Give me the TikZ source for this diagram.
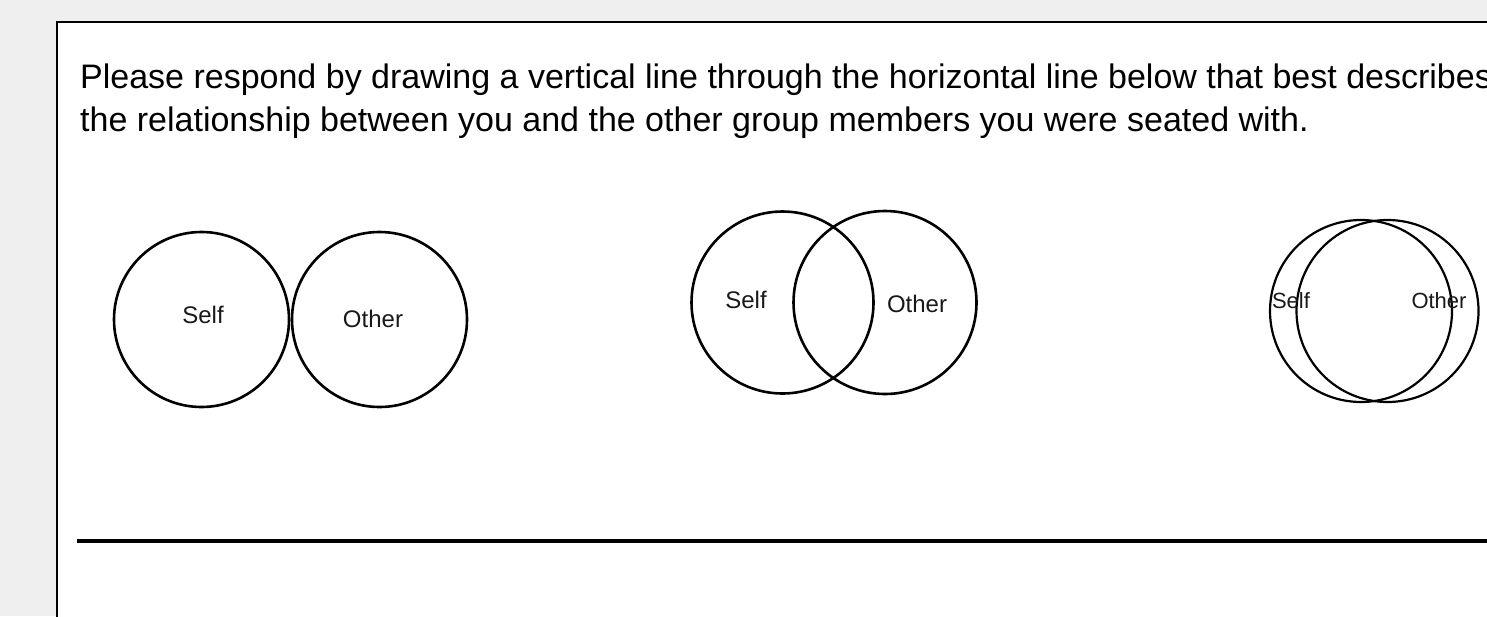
\documentclass[tikz,border=0pt]{standalone}
\usepackage{fontspec}
\setmainfont{Liberation Sans}
\usetikzlibrary{positioning}
\definecolor{pagegray}{HTML}{EFEFEF}

\begin{document}
\begin{tikzpicture}[
    x=1pt, y=-1pt,
    ring/.style={draw=black, circle, line width=2.6pt, inner sep=0pt},
    tag/.style={text=black!90, font=\fontsize{24}{28}\selectfont, inner sep=0pt, anchor=base},
    smalltag/.style={tag, font=\fontsize{22}{26}\selectfont},
    prompt/.style={text=black, font=\fontsize{34}{40}\selectfont, inner sep=0pt, anchor=base west},
  ]
  % ---- page and frame ----
  \fill[pagegray] (0,0) rectangle (1487,616);
  \useasboundingbox (0,0) rectangle (1487,616);
  \clip (0,0) rectangle (1487,616);
  \fill[white] (57,22) rectangle (1600,1500);
  \draw[line width=1.8pt] (57,1500) -- (57,22) -- (1600,22);

  % ---- question text ----
  \node[prompt] (line1) at (80,88)
    {Please respond by drawing a vertical line through the horizontal line below that best describes};
  \node[prompt] (line2) at (80,131)
    {the relationship between you and the other group members you were seated with.};

  % ---- separate circles ----
  \node[ring, minimum size=175pt] (self1) at (201.5,319.5) {};
  \node[ring, minimum size=175pt] (other1) at (379.5,319.5) {};
  \node[tag] (selflbl1) at (203,323) {Self};
  \node[tag] (otherlbl1) at (373,327) {Other};

  % ---- overlapping circles ----
  \node[ring, minimum size=182pt] (self2) at (782.5,302.5) {};
  \node[ring, minimum size=183pt] (other2) at (885,302.5) {};
  \node[tag] (selflbl2) at (746,308) {Self};
  \node[tag] (otherlbl2) at (917,312) {Other};

  % ---- almost merged circles ----
  \node[ring, minimum size=182pt, line width=2.2pt] (self3) at (1361,311) {};
  \node[ring, minimum size=182pt, line width=2.2pt] (other3) at (1387.5,311) {};
  \node[smalltag] (selflbl3) at (1291,308) {Self};
  \node[smalltag] (otherlbl3) at (1439,308) {Other};

  % ---- response line ----
  \coordinate (scalestart) at (77,541);
  \coordinate (scaleend) at (1500,541);
  \draw[line width=3.4pt] (scalestart) -- (scaleend);
\end{tikzpicture}
\end{document}
